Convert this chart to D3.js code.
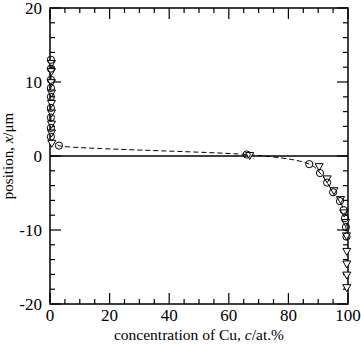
<!DOCTYPE html>
<html><head><meta charset="utf-8">
<script src="https://cdn.jsdelivr.net/npm/d3@7"></script>
<style>
body{margin:0;background:#fff;}
text{font-family:"Liberation Serif","DejaVu Serif",serif;fill:#000;}
</style></head>
<body><svg id="c" width="361" height="344"></svg>
<script>
// circles series (c in at.%, x in µm)
const circleC = [0.3, 0.3, 0.3, 0.3, 0.3, 0.3, 0.3, 0.3, 0.3, 3.0, 66, 87, 90.6, 93, 95, 97.3, 98.5, 99, 99.3, 99.5];
const circleX = [13.0, 11.8, 10.3, 9.2, 8.0, 6.5, 5.2, 3.8, 2.6, 1.4, 0.2, -1.1, -2.3, -3.6, -4.9, -6.1, -7.3, -8.4, -9.6, -10.9];
// triangles series
const triC = [0.5, 0.5, 0.5, 0.5, 0.5, 0.5, 0.5, 0.5, 0.6, 67, 90.3, 93, 95.3, 97.5, 98.7, 99.2, 99.5, 99.6, 99.6, 99.6, 99.6];
const triX = [12.6, 11.5, 10.0, 8.6, 7.2, 5.9, 4.4, 3.2, 1.8, 0.15, -1.35, -3.0, -4.6, -5.8, -7.6, -8.9, -10.7, -12.8, -14.5, -16.0, -17.7];
const xTicks = [0, 20, 40, 60, 80, 100];
const yTicks = [-20, -10, 0, 10, 20];

const svg = d3.select("#c");
const L = 50, R = 348, T = 8, B = 304;
const x = d3.scaleLinear().domain([0, 100]).range([L, R]);
const y = d3.scaleLinear().domain([-20, 20]).range([B, T]);

// frame
svg.append("rect").attr("x", L).attr("y", T).attr("width", R - L).attr("height", B - T)
  .attr("fill", "none").attr("stroke", "#000").attr("stroke-width", 1.5);

// ticks
const g = svg.append("g").attr("stroke", "#000").attr("stroke-width", 1.2);
d3.range(0, 101, 5).forEach(v => {
  const len = v % 20 === 0 ? 11 : 5;
  g.append("line").attr("x1", x(v)).attr("x2", x(v)).attr("y1", B).attr("y2", B - len);
  g.append("line").attr("x1", x(v)).attr("x2", x(v)).attr("y1", T).attr("y2", T + len);
});
d3.range(-20, 21, 2).forEach(v => {
  const len = v % 10 === 0 ? 11 : 5;
  g.append("line").attr("y1", y(v)).attr("y2", y(v)).attr("x1", L).attr("x2", L + len);
  g.append("line").attr("y1", y(v)).attr("y2", y(v)).attr("x1", R).attr("x2", R - len);
});

// tick labels
svg.selectAll(".xt").data(xTicks).enter().append("text")
  .attr("x", d => x(d)).attr("y", B + 17).attr("text-anchor", "middle")
  .attr("font-size", 17).text(d => d);
svg.selectAll(".yt").data(yTicks).enter().append("text")
  .attr("x", L - 8).attr("y", d => y(d) + 6).attr("text-anchor", "end")
  .attr("font-size", 17).text(d => d);

// zero line
svg.append("line").attr("x1", L).attr("x2", R).attr("y1", y(0)).attr("y2", y(0))
  .attr("stroke", "#000").attr("stroke-width", 1.5);

// dashed line through circles
const pts = circleC.map((c, i) => [c, circleX[i]]);
svg.append("path").datum(pts)
  .attr("d", d3.line().x(d => x(d[0])).y(d => y(d[1])).curve(d3.curveMonotoneY))
  .attr("fill", "none").attr("stroke", "#000").attr("stroke-width", 1).attr("stroke-dasharray", "5,3");

// triangles
const tri = d3.symbol().type(d3.symbolTriangle).size(28);
svg.selectAll(".tri").data(triC.map((c, i) => [c, triX[i]])).enter().append("path")
  .attr("d", tri).attr("transform", d => `translate(${x(d[0])},${y(d[1])}) rotate(180)`)
  .attr("fill", "#fff").attr("stroke", "#000").attr("stroke-width", 1);

// circles
svg.selectAll(".cir").data(pts).enter().append("circle")
  .attr("cx", d => x(d[0])).attr("cy", d => y(d[1])).attr("r", 3.6)
  .attr("fill", "none").attr("stroke", "#000").attr("stroke-width", 1);

// axis labels
const xl = svg.append("text").attr("x", (L + R) / 2).attr("y", 340).attr("text-anchor", "middle").attr("font-size", 15.5);
xl.append("tspan").text("concentration of Cu, ");
xl.append("tspan").attr("font-style", "italic").text("c");
xl.append("tspan").text("/at.%");

const yl = svg.append("text").attr("transform", `translate(13,${(T + B) / 2}) rotate(-90)`)
  .attr("text-anchor", "middle").attr("font-size", 15);
yl.append("tspan").text("position, ");
yl.append("tspan").attr("font-style", "italic").text("x");
yl.append("tspan").text("/μm");
</script></body></html>
